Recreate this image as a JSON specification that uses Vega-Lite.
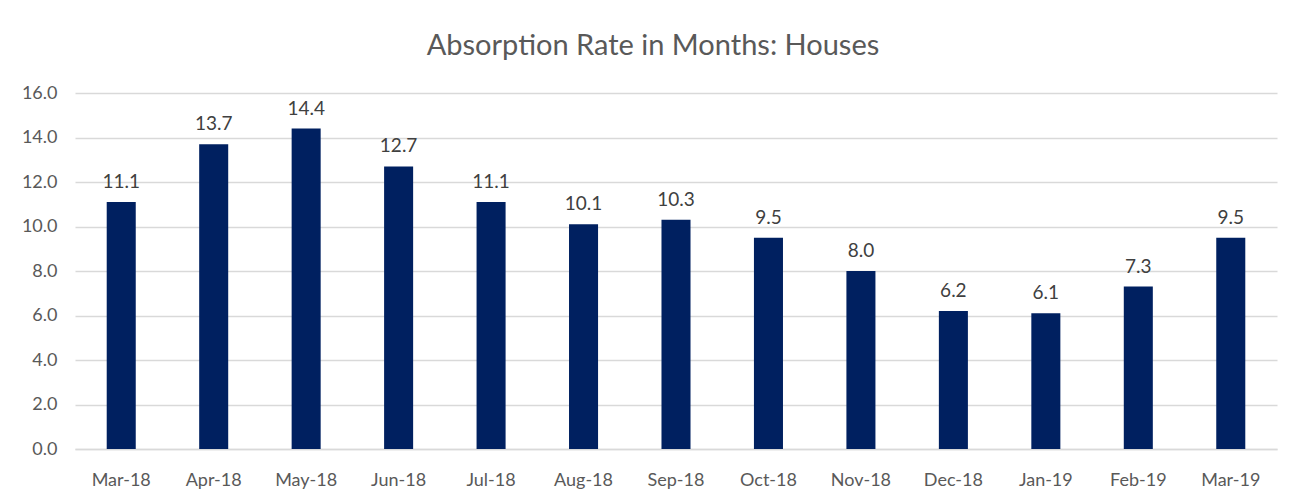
{
  "$schema": "https://vega.github.io/schema/vega-lite/v6.json",
  "autosize": {"type": "none"},
  "width": 1202,
  "height": 356,
  "padding": {"left": 75, "top": 93, "right": 26, "bottom": 54},
  "background": "white",
  "title": {
    "text": "Absorption Rate in Months: Houses",
    "font": "Lato",
    "fontSize": 29,
    "fontWeight": "normal",
    "color": "#595959",
    "anchor": "middle",
    "offset": 23,
    "dx": -23
  },
  "data": {
    "values": [
      {"month": "Mar-18", "rate": 11.1},
      {"month": "Apr-18", "rate": 13.7},
      {"month": "May-18", "rate": 14.4},
      {"month": "Jun-18", "rate": 12.7},
      {"month": "Jul-18", "rate": 11.1},
      {"month": "Aug-18", "rate": 10.1},
      {"month": "Sep-18", "rate": 10.3},
      {"month": "Oct-18", "rate": 9.5},
      {"month": "Nov-18", "rate": 8.0},
      {"month": "Dec-18", "rate": 6.2},
      {"month": "Jan-19", "rate": 6.1},
      {"month": "Feb-19", "rate": 7.3},
      {"month": "Mar-19", "rate": 9.5}
    ]
  },
  "encoding": {
    "x": {
      "field": "month",
      "type": "ordinal",
      "sort": null,
      "scale": {"paddingInner": 0.686, "paddingOuter": 0.343},
      "axis": {
        "title": null,
        "labelAngle": 0,
        "labelFont": "Lato",
        "labelFontSize": 18,
        "labelColor": "#595959",
        "labelPadding": 22,
        "ticks": false,
        "domain": true,
        "domainColor": "#d9d9d9",
        "domainWidth": 1.3
      }
    },
    "y": {
      "field": "rate",
      "type": "quantitative",
      "scale": {"domain": [0, 16], "nice": false},
      "axis": {
        "title": null,
        "values": [0, 2, 4, 6, 8, 10, 12, 14, 16],
        "format": ".1f",
        "labelFont": "Lato",
        "labelFontSize": 18,
        "labelColor": "#595959",
        "labelPadding": 18,
        "ticks": false,
        "domain": false,
        "grid": true,
        "gridColor": "#d9d9d9",
        "gridWidth": 1.3
      }
    }
  },
  "layer": [
    {"mark": {"type": "bar", "color": "#002060"}},
    {
      "mark": {
        "type": "text",
        "baseline": "alphabetic",
        "dy": -14,
        "font": "Lato",
        "fontSize": 19,
        "color": "#404040"
      },
      "encoding": {"text": {"field": "rate", "type": "quantitative", "format": ".1f"}}
    }
  ],
  "config": {"view": {"stroke": null}}
}
